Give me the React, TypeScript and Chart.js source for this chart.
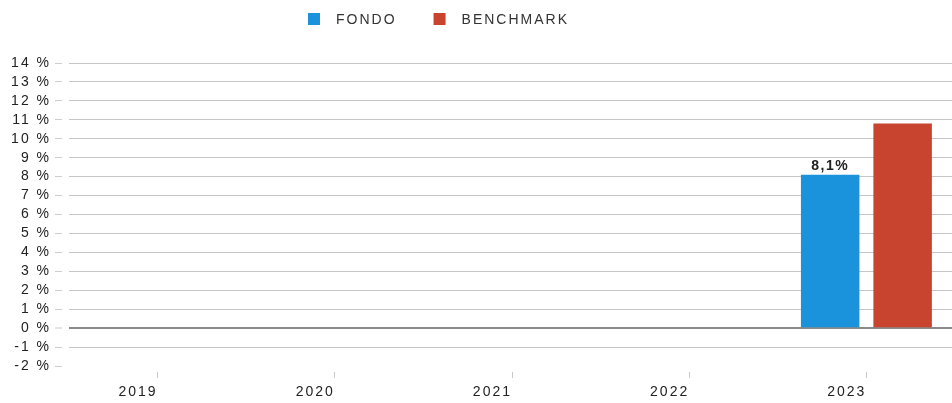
import React, { useEffect, useRef } from "react";
import { Chart, registerables } from "chart.js";

Chart.register(...registerables);

const categories = ["2019", "2020", "2021", "2022", "2023"];
const fondoValues: (number | null)[] = [null, null, null, null, 8.1];
const benchmarkValues: (number | null)[] = [null, null, null, null, 10.8];
const seriesNames = ["FONDO", "BENCHMARK"];
const seriesColors = ["#1A92DC", "#C8442E"];
const yMin = -2;
const yMax = 14;

const FONT = "'Liberation Sans', Arial, sans-serif";

const spacingPlugin = {
  id: "spacing",
  beforeLayout(chart: any) {
    chart.ctx.letterSpacing = "2px";
  },
  beforeDraw(chart: any) {
    chart.ctx.letterSpacing = "2px";
  },
};

const legendPlugin = {
  id: "customLegend",
  afterDraw(chart: any) {
    const ctx = chart.ctx;
    ctx.save();
    ctx.letterSpacing = "2px";
    ctx.font = `14px ${FONT}`;
    ctx.textBaseline = "middle";
    ctx.textAlign = "left";
    let x = 308;
    const y = 19;
    chart.data.datasets.forEach((ds: any) => {
      ctx.fillStyle = ds.backgroundColor;
      ctx.fillRect(x, y - 6, 12, 12);
      ctx.fillStyle = "#333333";
      const tx = x + 28;
      ctx.fillText(ds.label, tx, y + 1);
      x = tx + ctx.measureText(ds.label).width + 37;
    });
    ctx.restore();
  },
};

const valueLabelPlugin = {
  id: "valueLabels",
  afterDatasetsDraw(chart: any) {
    const ctx = chart.ctx;
    ctx.save();
    ctx.letterSpacing = "1.5px";
    ctx.font = `bold 14px ${FONT}`;
    ctx.fillStyle = "#222222";
    ctx.textAlign = "center";
    ctx.textBaseline = "bottom";
    const meta = chart.getDatasetMeta(0);
    const data = chart.data.datasets[0].data;
    meta.data.forEach((el: any, i: number) => {
      const v = data[i];
      if (v === null || v === undefined) return;
      const txt = Number(v).toFixed(1).replace(".", ",") + "%";
      ctx.fillText(txt, el.x, el.y - 2);
    });
    ctx.restore();
  },
};

export default function App() {
  const canvasRef = useRef<HTMLCanvasElement | null>(null);

  useEffect(() => {
    if (!canvasRef.current) return;
    const chart = new Chart(canvasRef.current, {
      type: "bar",
      data: {
        labels: categories,
        datasets: [
          {
            label: seriesNames[0],
            data: fondoValues,
            backgroundColor: seriesColors[0],
            borderWidth: 0,
            categoryPercentage: 0.818,
            barPercentage: 0.807,
          },
          {
            label: seriesNames[1],
            data: benchmarkValues,
            backgroundColor: seriesColors[1],
            borderWidth: 0,
            categoryPercentage: 0.818,
            barPercentage: 0.807,
          },
        ],
      },
      options: {
        responsive: false,
        animation: false,
        layout: { padding: { top: 63, left: 0, right: 0, bottom: 0 } },
        plugins: {
          legend: { display: false },
          tooltip: { enabled: false },
          title: { display: false },
        },
        scales: {
          x: {
            type: "category",
            offset: true,
            border: { display: false },
            grid: {
              offset: false,
              drawOnChartArea: false,
              drawTicks: true,
              tickLength: 12,
              tickColor: "#c8c8c8",
              tickBorderDash: [6, 6],
              tickBorderDashOffset: 6,
              tickWidth: 1,
            },
            ticks: {
              align: "end",
              padding: 6,
              color: "#222222",
              font: { family: FONT, size: 14 },
              maxRotation: 0,
              autoSkip: false,
            },
            afterFit(scale: any) {
              scale.height = 37;
            },
          },
          y: {
            min: yMin,
            max: yMax,
            border: { display: false },
            grid: {
              color: (c: any) =>
                c.tick && c.tick.value === yMin
                  ? "rgba(0,0,0,0)"
                  : c.tick && c.tick.value === 0
                  ? "#8a8a8a"
                  : "#c6c6c6",
              lineWidth: (c: any) => (c.tick && c.tick.value === 0 ? 2 : 1),
              drawTicks: true,
              tickLength: 14,
              tickColor: "#cccccc",
              tickWidth: 1,
              tickBorderDash: [7, 7],
            },
            ticks: {
              stepSize: 1,
              autoSkip: false,
              padding: 4,
              color: "#222222",
              font: { family: FONT, size: 14 },
              callback: (v: any) => `${v} %`,
            },
            afterFit(scale: any) {
              scale.width = 69;
            },
          },
        },
      },
      plugins: [spacingPlugin, legendPlugin, valueLabelPlugin],
    } as any);
    return () => chart.destroy();
  }, []);

  return (
    <div
      style={{
        position: "absolute",
        left: 0,
        top: 0,
        width: 952,
        height: 403,
        overflow: "hidden",
        background: "#ffffff",
      }}
    >
      <canvas ref={canvasRef} width={955} height={403} style={{ display: "block" }} />
    </div>
  );
}
